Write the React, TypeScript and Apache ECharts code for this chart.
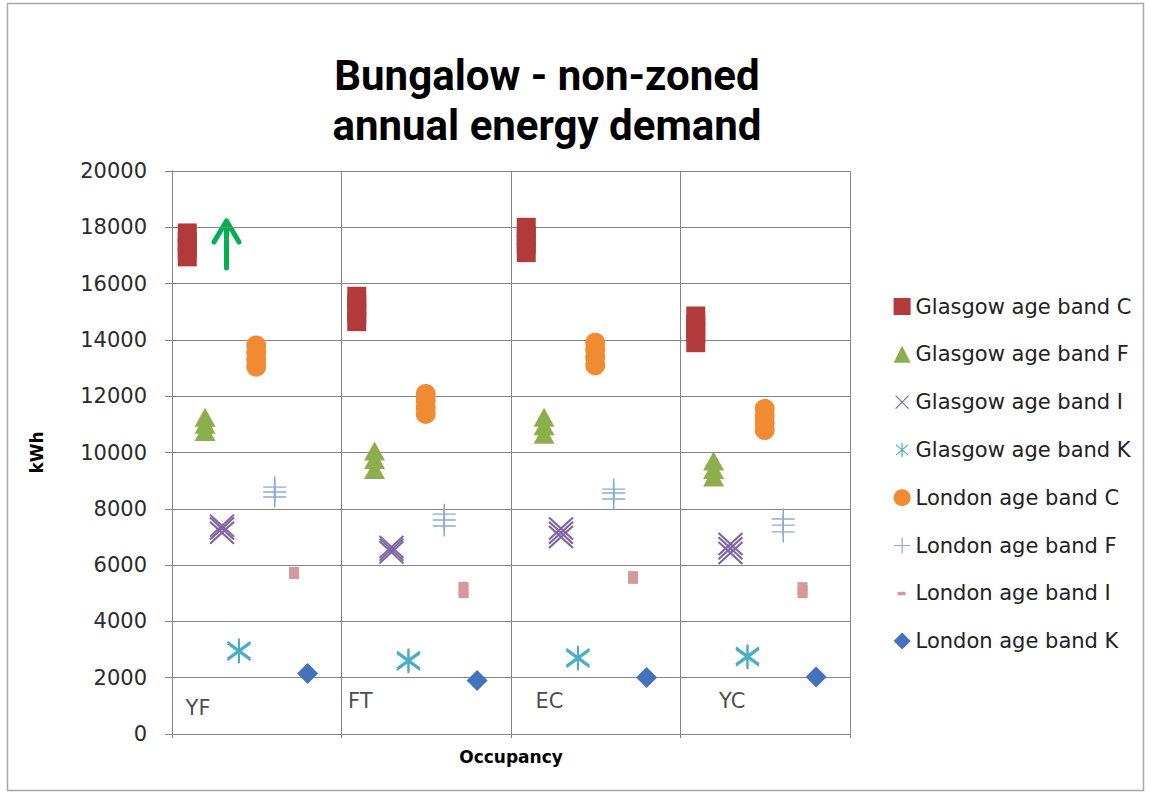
import React, { useEffect, useRef } from "react";
import * as echarts from "echarts";

// Occupancy categories (x sections 0..4)
const occupancy = ["YF", "FT", "EC", "YC"];
const occupancyLabelX = [0.077, 1.035, 2.142, 3.224];
const occupancyLabelY = [924, 1172, 1172, 1172];

const seriesNames = [
  "Glasgow age band C",
  "Glasgow age band F",
  "Glasgow age band I",
  "Glasgow age band K",
  "London age band C",
  "London age band F",
  "London age band I",
  "London age band K",
];
// position of each series inside its occupancy section
const seriesOffsets = [0.09, 0.195, 0.295, 0.395, 0.497, 0.606, 0.72, 0.8];

// values per occupancy (YF, FT, EC, YC)
const glasgowC = [
  [17800, 17500, 17250, 16950],
  [15550, 15250, 14950, 14650],
  [18000, 17700, 17400, 17100],
  [14850, 14550, 14250, 13900],
];
const glasgowF = [
  [11250, 11000, 10750],
  [10050, 9750, 9400],
  [11250, 10950, 10650],
  [9700, 9400, 9130],
];
const glasgowI = [
  [7400, 7300, 7150],
  [6650, 6550, 6450],
  [7300, 7150, 7000],
  [6750, 6600, 6430],
];
const glasgowK = [
  [2980, 2920],
  [2630, 2570],
  [2730, 2670],
  [2780, 2720],
];
const londonC = [
  [13800, 13550, 13300, 13050],
  [12080, 11850, 11600, 11370],
  [13900, 13650, 13380, 13100],
  [11550, 11300, 11050, 10800],
];
const londonF = [
  [8770, 8600, 8420],
  [7810, 7600, 7390],
  [8700, 8560, 8350],
  [7640, 7420, 7180],
];
const londonI = [
  [5830, 5720, 5610],
  [5300, 5180, 5050, 4930],
  [5680, 5560, 5440],
  [5290, 5170, 5050, 4930],
];
const londonK = [[2150], [1900], [2010], [2025]];

const seriesValues = [glasgowC, glasgowF, glasgowI, glasgowK, londonC, londonF, londonI, londonK];

const yMin = 0;
const yMax = 20000;
const yInterval = 2000;

const colors = ["#b33a3a", "#8dae4c", "#8064a2", "#4bacc6", "#f08b33", "#8ea9d2", "#d6989a", "#4472bd"];

const symbols = [
  "rect",
  "triangle",
  "path://M0,0L22,22M22,0L0,22",
  "path://M11,0L11,22M2,3L20,19M2,19L20,3",
  "circle",
  "path://M11,0L11,20M0,10L22,10",
  "rect",
  "diamond",
];
const symbolSizes: any[] = [[19, 19], [21, 19], [24, 22], [23, 23], 20, [23, 21], [10, 6], 21];
const strokeWidths = [0, 0, 2, 2, 0, 1.5, 0, 0];

const legendIcons = [
  "rect",
  "triangle",
  "path://M0,0M17,17M2,2L15,15M15,2L2,15",
  "path://M0,0M17,17M8.5,1.5L8.5,15.5M2.5,3.5L14.5,13.5M2.5,13.5L14.5,3.5",
  "circle",
  "path://M0,0M17,17M8.5,0.5L8.5,16.5M0.5,8.5L16.5,8.5",
  "path://M0,0M17,17M4,7L12,7L12,10.5L4,10.5Z",
  "diamond",
];

const FONT = "'DejaVu Sans', sans-serif";

export default function App() {
  const ref = useRef<HTMLDivElement>(null);

  useEffect(() => {
    document.body.style.margin = "0";
    const chart = echarts.init(ref.current!, undefined, { renderer: "svg" });

    const series: any[] = seriesNames.map((name, i) => {
      const data: number[][] = [];
      seriesValues[i].forEach((vals, c) => {
        vals.forEach((v) => data.push([c + seriesOffsets[i], v]));
      });
      const stroke = strokeWidths[i] > 0;
      return {
        name,
        type: "scatter",
        data,
        symbol: symbols[i],
        symbolSize: symbolSizes[i],
        itemStyle: stroke
          ? { color: "transparent", borderColor: colors[i], borderWidth: strokeWidths[i], opacity: 1 }
          : { color: colors[i], opacity: 1 },
        emphasis: { disabled: true },
        z: 3,
      };
    });

    series.push({
      name: "occupancy labels",
      type: "scatter",
      symbolSize: 1,
      itemStyle: { color: "transparent" },
      data: occupancy.map((o, i) => ({ name: o, value: [occupancyLabelX[i], occupancyLabelY[i]] })),
      label: {
        show: true,
        position: "right",
        distance: 0,
        formatter: (p: any) => p.name,
        fontFamily: FONT,
        fontSize: 21,
        color: "#1a1a1a",
      },
      emphasis: { disabled: true },
      silent: true,
    });

    chart.setOption({
      animation: false,
      backgroundColor: "#ffffff",
      grid: { left: 172, top: 171, right: 301, bottom: 65, containLabel: false },
      xAxis: {
        type: "value",
        min: 0,
        max: occupancy.length,
        interval: 1,
        name: "Occupancy",
        nameLocation: "middle",
        nameGap: 14,
        nameTextStyle: { fontFamily: FONT, fontSize: 17, fontWeight: "bold", color: "#000", verticalAlign: "top" },
        axisLabel: { show: false },
        axisLine: { show: true, lineStyle: { color: "#868686", width: 1 } },
        axisTick: { show: true, length: 4, lineStyle: { color: "#868686" } },
        splitLine: { show: true, lineStyle: { color: "#868686", width: 1 } },
      },
      yAxis: {
        type: "value",
        min: yMin,
        max: yMax,
        interval: yInterval,
        name: "kWh",
        nameLocation: "middle",
        nameRotate: 90,
        nameGap: 127,
        nameTextStyle: { fontFamily: FONT, fontSize: 17, fontWeight: "bold", color: "#000" },
        axisLabel: {
          fontFamily: FONT,
          fontSize: 21,
          color: "#2b2b2b",
          margin: 25,
          formatter: (v: number) => String(v),
        },
        axisLine: { show: true, lineStyle: { color: "#868686", width: 1 } },
        axisTick: { show: true, length: 7, lineStyle: { color: "#868686" } },
        splitLine: { show: true, lineStyle: { color: "#868686", width: 1 } },
      },
      legend: {
        orient: "vertical",
        left: 888,
        top: 291,
        padding: 5,
        itemWidth: 17,
        itemHeight: 17,
        itemGap: 26.8,
        selectedMode: false,
        textStyle: { fontFamily: FONT, fontSize: 21, color: "#222", lineHeight: 21 },
        data: seriesNames.map((n, i) => ({
          name: n,
          icon: legendIcons[i],
          itemStyle: strokeWidths[i] > 0 ? { borderWidth: 1.2 } : {},
        })),
      },
      graphic: [
        {
          type: "rect",
          shape: { x: 7.5, y: 3.5, width: 1136, height: 787 },
          style: { fill: "none", stroke: "#a6a6a6", lineWidth: 1.5 },
          silent: true,
        },
        {
          type: "text",
          x: 547,
          y: 100.5,
          style: {
            text: "Bungalow - non-zoned\nannual energy demand",
            fontFamily: "Roboto, 'Open Sans', sans-serif",
            fontWeight: "bold",
            fontSize: 42,
            lineHeight: 49.5,
            fill: "#000",
            textAlign: "center",
            textVerticalAlign: "middle",
          },
        },
        {
          type: "group",
          silent: true,
          children: [
            {
              type: "line",
              shape: { x1: 226.5, y1: 268, x2: 226.5, y2: 222 },
              style: { stroke: "#00b050", lineWidth: 5, lineCap: "round" },
            },
            {
              type: "polyline",
              shape: { points: [[214, 242], [226.5, 221], [239, 242]] },
              style: { stroke: "#00b050", lineWidth: 5, fill: "none", lineCap: "round", lineJoin: "round" },
            },
          ],
        },
      ],
      series,
    });

    return () => chart.dispose();
  }, []);

  return <div ref={ref} style={{ width: 1151, height: 799 }} />;
}
